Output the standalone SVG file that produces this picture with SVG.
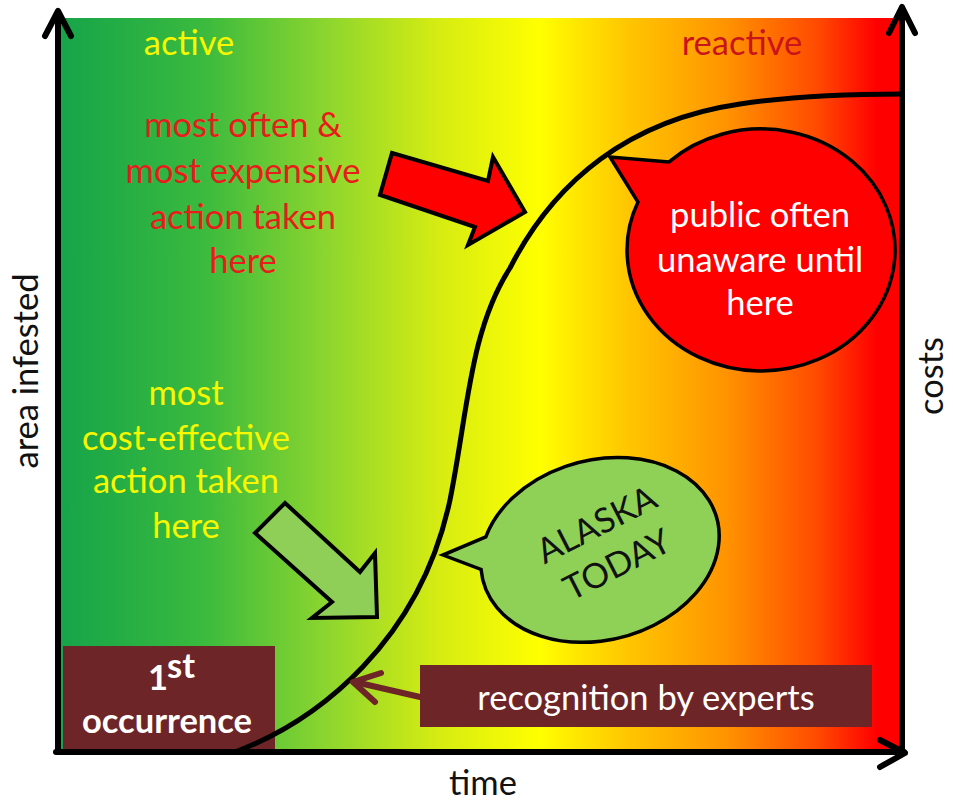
<svg xmlns="http://www.w3.org/2000/svg" width="953" height="804" viewBox="0 0 953 804">
<defs>
<linearGradient id="bg" gradientUnits="userSpaceOnUse" x1="60" y1="0" x2="902" y2="0">
<stop offset="0" stop-color="#16a44a"/>
<stop offset="0.17" stop-color="#3aba3e"/>
<stop offset="0.32" stop-color="#8ed62e"/>
<stop offset="0.45" stop-color="#d6ec12"/>
<stop offset="0.57" stop-color="#ffff00"/>
<stop offset="0.67" stop-color="#ffc800"/>
<stop offset="0.79" stop-color="#ff9400"/>
<stop offset="0.9" stop-color="#ff4a00"/>
<stop offset="0.97" stop-color="#ff0000"/>
<stop offset="1" stop-color="#ff0000"/>
</linearGradient>
<style>
.t{font-family:Lato,"Open Sans","Liberation Sans",sans-serif;font-size:34.5px;text-anchor:middle}
.red{fill:#e81c1c}
.yel{fill:#f8f800}
.wht{fill:#ffffff}
.blk{fill:#111111}
.b{font-weight:bold}
.axis{fill:none;stroke:#000;stroke-width:6;stroke-linecap:round;stroke-linejoin:round}
.box{fill:#6e2527}
.out{stroke:#000;stroke-width:4;stroke-linejoin:miter}
</style>
</defs>
<rect x="0" y="0" width="953" height="804" fill="#ffffff"/>
<rect id="background" x="60" y="18" width="842" height="734" fill="url(#bg)"/>

<g id="first-occurrence">
<rect class="box" x="63" y="646" width="212" height="106"/>
<text class="t wht b" x="158" y="690" font-size="33">1</text>
<text class="t wht b" x="167" y="678" font-size="20" style="text-anchor:start">st</text>
<text class="t wht b" x="167" y="733" font-size="34">occurrence</text>
</g>

<g id="curve">
<path d="M235,752 C320,720 420,640 450,500 C468,410 470,330 510,268 C555,180 630,120 740,104 C800,95 860,94 902,94" fill="none" stroke="#000" stroke-width="5"/>
</g>

<g id="axes">
<path class="axis" d="M58,752 L58,12"/>
<path class="axis" d="M45,36 L58,11 L71,36"/>
<path class="axis" d="M902,752 L902,8"/>
<path class="axis" d="M889,33 L902,7 L915,33"/>
<path class="axis" d="M56,752 L904,752"/>
<path class="axis" d="M880,740 L905,753 L880,767"/>
</g>

<g id="label-active"><text class="t yel" x="189" y="55">active</text></g>
<g id="label-reactive"><text class="t" x="742" y="55" fill="#c8141a">reactive</text></g>

<g id="expensive-text">
<text class="t red" x="243" y="137">most often &amp;</text>
<text class="t red" x="243" y="183">most expensive</text>
<text class="t red" x="243" y="229">action taken</text>
<text class="t red" x="243" y="273">here</text>
</g>

<g id="cost-effective-text">
<text class="t yel" x="186" y="405">most</text>
<text class="t yel" x="186" y="450">cost-effective</text>
<text class="t yel" x="186" y="493">action taken</text>
<text class="t yel" x="186" y="538">here</text>
</g>

<g id="public-bubble">
<path d="M669.1,161.9 L610,157 L638,202 A134,121 0 1 0 669.1,161.9 Z" fill="#ff0000" stroke="#000" stroke-width="3.5"/>
<text class="t wht" x="760" y="227">public often</text>
<text class="t wht" x="760" y="272">unaware until</text>
<text class="t wht" x="760" y="315">here</text>
</g>

<g id="alaska-bubble">
<path transform="translate(600,550) rotate(-15)" d="M-106.9,-42.2 L-153,-35.8 L-119.9,-12 A121,90 0 1 0 -106.9,-42.2 Z" fill="#8fd157" stroke="#000" stroke-width="3.5"/>
<g transform="translate(607,545) rotate(-27)">
<text class="t blk" x="0" y="-11" font-size="30">ALASKA</text>
<text class="t blk" x="0" y="34" font-size="30">TODAY</text>
</g>
</g>

<g id="recognition">
<rect class="box" x="420" y="665" width="452" height="62"/>
<text class="t wht" x="646" y="710">recognition by experts</text>
</g>

<g id="connectors">
<polygon class="out" points="392,153 488,181 493,157 525,212 468,245 475,227 380,195" fill="#ff0000"/>
<polygon class="out" points="285,503 360,572 375,553 377,617 312,618 332,602 255,533" fill="#8fcf58"/>
<path d="M420,697 L355,682" fill="none" stroke="#6e2527" stroke-width="6" stroke-linecap="round"/>
<path d="M381,673 L353,682 L375,702" fill="none" stroke="#6e2527" stroke-width="6" stroke-linecap="round" stroke-linejoin="round"/>
</g>

<g id="axis-labels">
<text class="t blk" x="483" y="795">time</text>
<text class="t blk" transform="translate(38,371) rotate(-90)" x="0" y="0">area infested</text>
<text class="t blk" transform="translate(943,376) rotate(-90)" x="0" y="0">costs</text>
</g>
</svg>
